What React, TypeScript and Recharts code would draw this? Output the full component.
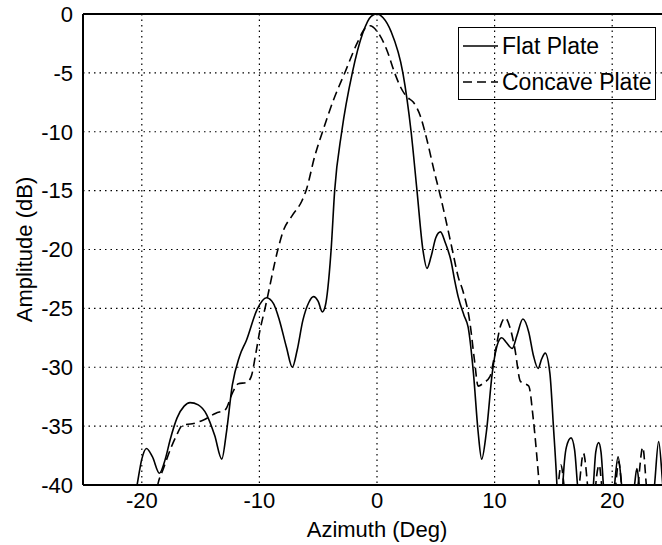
import { CartesianGrid, Label, Line, LineChart, ReferenceLine, XAxis, YAxis } from "recharts";

const FONT = "'Liberation Sans', Arial, Helvetica, sans-serif";

// Flat plate (solid) – azimuth in degrees, amplitude in dB
const flatAzimuth = [
  -21.5, -20.4, -20.0, -19.6, -19.1, -18.5, -18.0, -17.6, -17.0, -16.4, -15.9, -15.2, -14.5, -13.8,
  -13.2, -12.8, -12.3, -11.7, -11.1, -10.2, -9.4, -8.8, -8.3, -7.7, -7.2, -6.8, -6.3, -5.8, -5.4,
  -5.0, -4.65, -4.4, -3.9, -3.6, -3.0, -2.1, -1.2, -0.5, 0, 0.5, 1.2, 2.2, 2.9, 3.4, 3.9, 4.25, 4.6,
  5.0, 5.4, 5.8, 6.3, 6.6, 6.9, 7.4, 7.75, 8.2, 8.6, 8.9, 9.3, 9.8, 10.2, 10.6, 11.0, 11.5, 11.9,
  12.4, 12.9, 13.3, 13.7, 14.0, 14.3, 14.7, 15.0, 15.3, 15.55, 15.8, 16.1, 16.5, 16.8, 17.05, 17.7,
  18.4, 18.6, 18.85, 19.05, 19.25, 19.7, 20.2, 20.5, 20.8, 21.3, 21.9, 22.1, 22.3, 22.9, 23.6,
  23.95, 24.3, 24.8,
];
const flatAmplitude = [
  -46, -40, -37.8, -36.9, -37.6, -39.0, -37.8, -36.2, -34.3, -33.3, -33.0, -33.2, -34.0, -35.8,
  -37.8, -35.5, -31.5, -29.1, -27.7, -25.1, -24.1, -24.6, -26.0, -28.3, -30.0, -28.6, -26.0, -24.5,
  -24.0, -24.4, -25.3, -24.8, -20.0, -15.0, -10.0, -5.0, -1.6, -0.2, 0, -0.3, -1.5, -5.0, -10.0,
  -15.0, -20.0, -21.6, -20.6, -19.0, -18.5, -19.4, -21.0, -22.6, -24.0, -25.6, -26.6, -30.5, -35.5,
  -37.8, -35.5, -30.5, -28.2, -27.5, -27.9, -28.4, -27.3, -25.9, -27.0, -29.0, -30.1, -29.3, -28.8,
  -30.5, -35.0, -40, -46, -40, -36.8, -36.0, -37.0, -40, -46, -40, -37.2, -36.4, -37.2, -40, -46,
  -40, -37.6, -40, -46, -40, -38.6, -40, -46, -40, -36.3, -40, -46,
];

// Concave plate (dashed)
const concaveAzimuth = [
  -19.5, -18.6, -18.2, -17.5, -17.1, -16.5, -15.7, -14.8, -13.7, -12.9, -12.3, -11.8, -11.1, -10.7,
  -10.3, -10.0, -9.5, -8.4, -8.0, -7.2, -6.4, -6.0, -5.3, -4.6, -3.7, -2.7, -1.7, -1.0, -0.6, 0.1,
  0.85, 1.5, 2.0, 2.5, 3.1, 3.7, 4.2, 4.9, 5.4, 6.4, 6.9, 7.3, 7.9, 8.3, 8.6, 9.1, 9.6, 10.0, 10.5,
  10.9, 11.3, 11.7, 12.2, 12.9, 13.3, 13.8, 14.3, 15.4, 15.65, 15.9, 16.5, 17.2, 17.55, 17.9, 18.3,
  18.6, 18.9, 19.1, 19.6, 20.3, 20.55, 20.8, 21.6, 22.2, 22.6, 22.9, 23.4, 25,
];
const concaveAmplitude = [
  -46, -39.8, -38.7, -36.8, -35.9, -34.9, -34.8, -34.5, -33.9, -33.6, -32.2, -31.4, -31.3, -30.8,
  -28.8, -27.1, -24.9, -19.9, -18.5, -17.1, -15.9, -14.9, -12.1, -9.9, -7.3, -4.9, -2.5, -1.2, -1.0,
  -1.6, -3.1, -5.0, -6.2, -7.0, -7.5, -8.7, -10.5, -13.5, -15.5, -20.0, -22.3, -23.5, -26.2, -29.5,
  -31.6, -31.3, -30.8, -29.0, -26.5, -25.8, -26.6, -28.3, -31.2, -31.6, -34.5, -40, -46, -40, -38.3,
  -40, -46, -40, -37.3, -40, -46, -40, -38.3, -40, -46, -40, -38.0, -40, -46, -40, -36.8, -40, -46,
  -46,
];

const xTicks = [-20, -10, 0, 10, 20];
const yTicks = [-40, -35, -30, -25, -20, -15, -10, -5, 0];

const flatData = flatAzimuth.map((az, i) => ({ az, amp: flatAmplitude[i] }));
const concaveData = concaveAzimuth.map((az, i) => ({ az, amp: concaveAmplitude[i] }));

const tickStyle = { fill: "#000", fontSize: 22, fontFamily: FONT };

function PlotLegend() {
  const row = { display: "flex", alignItems: "center", height: 36 } as const;
  return (
    <div
      style={{
        position: "absolute",
        left: 458,
        top: 27,
        width: 198,
        height: 73,
        border: "1.5px solid #000",
        boxSizing: "border-box",
        fontFamily: FONT,
        fontSize: 23,
        color: "#000",
        lineHeight: 1,
      }}
    >
      <div style={row}>
        <svg width={40} height={10} style={{ marginLeft: 3 }}>
          <line x1={1} y1={5} x2={36} y2={5} stroke="#000" strokeWidth={1.6} />
        </svg>
        <span>Flat Plate</span>
      </div>
      <div style={row}>
        <svg width={40} height={10} style={{ marginLeft: 3 }}>
          <line x1={1} y1={5} x2={36} y2={5} stroke="#000" strokeWidth={1.6} strokeDasharray="9 5" />
        </svg>
        <span>Concave Plate</span>
      </div>
    </div>
  );
}

export default function App() {
  return (
    <div
      style={{
        position: "absolute",
        left: 0,
        top: 0,
        width: 662,
        height: 545,
        overflow: "hidden",
        background: "#fff",
      }}
    >
      <LineChart width={700} height={545} margin={{ top: 14, right: 29, bottom: 30, left: 0 }}>
        <CartesianGrid stroke="#000" strokeWidth={1.2} strokeDasharray="1.5 4" />
        <XAxis
          type="number"
          dataKey="az"
          domain={[-25, 25]}
          ticks={xTicks}
          height={30}
          tickSize={0}
          tickMargin={7}
          tick={tickStyle}
          axisLine={{ stroke: "#000", strokeWidth: 2 }}
          allowDataOverflow
        >
          <Label
            value="Azimuth (Deg)"
            position="bottom"
            offset={6}
            style={{ fill: "#000", fontSize: 22, fontFamily: FONT }}
          />
        </XAxis>
        <YAxis
          type="number"
          domain={[-40, 0]}
          ticks={yTicks}
          width={83}
          tickSize={0}
          tickMargin={10}
          tick={tickStyle}
          axisLine={{ stroke: "#000", strokeWidth: 2 }}
          allowDataOverflow
        >
          <Label
            content={({ viewBox }: any) => {
              const cy = viewBox.y + viewBox.height / 2;
              return (
                <text
                  x={24}
                  y={cy}
                  transform={`rotate(-90 24 ${cy})`}
                  textAnchor="middle"
                  dominantBaseline="central"
                  fill="#000"
                  fontSize={22}
                  fontFamily={FONT}
                >
                  Amplitude (dB)
                </text>
              );
            }}
          />
        </YAxis>
        <ReferenceLine y={0} stroke="#000" strokeWidth={2} />
        <Line
          data={flatData}
          dataKey="amp"
          type="monotone"
          stroke="#000"
          strokeWidth={1.6}
          dot={false}
          isAnimationActive={false}
        />
        <Line
          data={concaveData}
          dataKey="amp"
          type="monotone"
          stroke="#000"
          strokeWidth={1.6}
          strokeDasharray="9 5"
          dot={false}
          isAnimationActive={false}
        />
      </LineChart>
      <PlotLegend />
    </div>
  );
}
